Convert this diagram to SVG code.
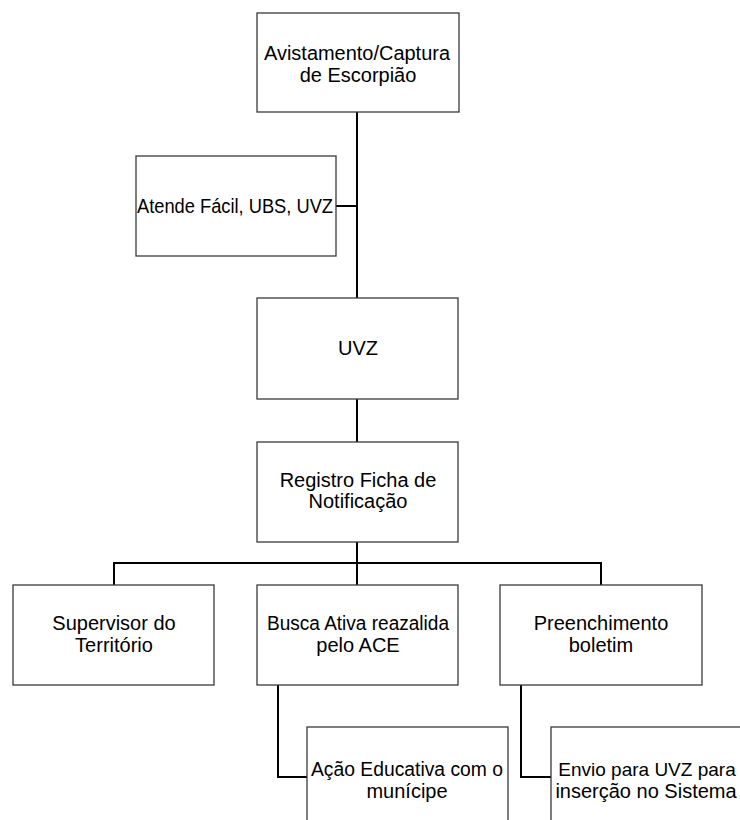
<svg xmlns="http://www.w3.org/2000/svg" width="740" height="820" viewBox="0 0 740 820">
<style>
.box{fill:#fff;stroke:#3a3a3a;stroke-width:1.3}
.con{fill:none;stroke:#000;stroke-width:2}
text{font-family:"Liberation Sans",Arial,sans-serif;font-size:20px;fill:#000;text-anchor:middle}
</style>
<rect width="740" height="820" fill="#fff"/>
<g id="connectors">
<path class="con" d="M357,112 V298"/>
<path class="con" d="M336,206 H357"/>
<path class="con" d="M357,399 V442"/>
<path class="con" d="M357,542 V585"/>
<path class="con" d="M114,585 V563 H601 V585"/>
<path class="con" d="M278,685 V777 H307"/>
<path class="con" d="M521,685 V777 H551"/>
</g>
<g id="n1"><rect class="box" x="257" y="13" width="202" height="99"/>
<text x="357" y="60" textLength="186" lengthAdjust="spacingAndGlyphs">Avistamento/Captura</text><text x="358" y="82">de Escorpião</text></g>
<g id="n2"><rect class="box" x="136" y="156" width="200" height="100"/>
<text x="235" y="213" textLength="196" lengthAdjust="spacingAndGlyphs">Atende Fácil, UBS, UVZ</text></g>
<g id="n3"><rect class="box" x="257" y="298" width="201" height="101"/>
<text x="358" y="355">UVZ</text></g>
<g id="n4"><rect class="box" x="257" y="442" width="201" height="100"/>
<text x="358" y="487">Registro Ficha de</text><text x="358" y="508">Notificação</text></g>
<g id="n5"><rect class="box" x="13" y="585" width="201" height="100"/>
<text x="114" y="630">Supervisor do</text><text x="114" y="652">Território</text></g>
<g id="n6"><rect class="box" x="257" y="585" width="201" height="100"/>
<text x="358" y="630" textLength="182" lengthAdjust="spacingAndGlyphs">Busca Ativa reazalida</text><text x="358" y="652">pelo ACE</text></g>
<g id="n7"><rect class="box" x="500" y="585" width="202" height="100"/>
<text x="601" y="630">Preenchimento</text><text x="601" y="652">boletim</text></g>
<g id="n8"><rect class="box" x="307" y="727" width="201" height="100"/>
<text x="407" y="776" textLength="192" lengthAdjust="spacingAndGlyphs">Ação Educativa com o</text><text x="407" y="798">munícipe</text></g>
<g id="n9"><rect class="box" x="551" y="727" width="201" height="100"/>
<text x="647" y="776" style="font-size:19px">Envio para UVZ para</text><text x="646" y="798">inserção no Sistema</text></g>
</svg>
